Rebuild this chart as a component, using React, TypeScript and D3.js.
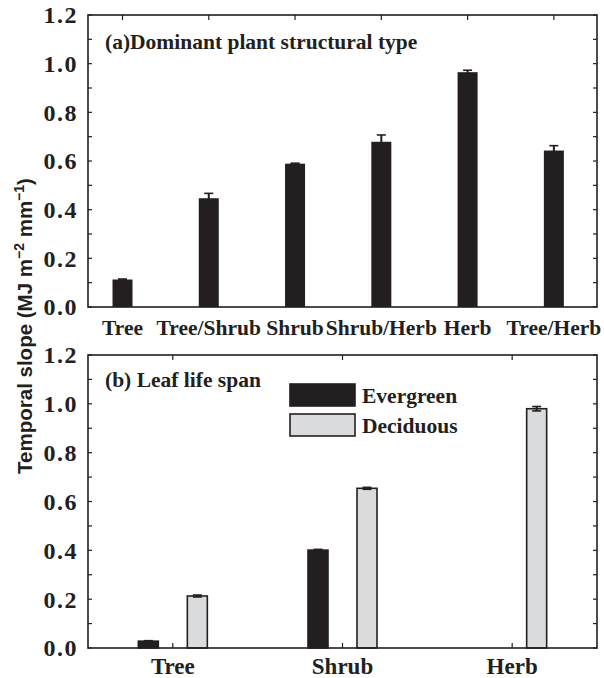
import React from 'react';
import * as d3 from 'd3';

// panel (a)
const structTypes = ['Tree', 'Tree/Shrub', 'Shrub', 'Shrub/Herb', 'Herb', 'Tree/Herb'];
const structSlope = [0.113, 0.447, 0.589, 0.679, 0.965, 0.643];
const structErr = [0.002, 0.02, 0.002, 0.028, 0.008, 0.02];

// panel (b)
const lifeForms = ['Tree', 'Shrub', 'Herb'];
const seriesNames = ['Evergreen', 'Deciduous'];
const evergreenSlope = [0.028, 0.401, 0];
const evergreenErr = [0.002, 0.003, 0];
const deciduousSlope = [0.213, 0.654, 0.98];
const deciduousErr = [0.004, 0.004, 0.009];

const yTicks = [0, 0.2, 0.4, 0.6, 0.8, 1.0, 1.2];
const yMinor = d3.range(0, 13).map(d => d / 10);

const W = 604;
const H = 678;
const left = 88;
const right = 597;
const ink = '#231f20';
const serif = '"Liberation Serif", "Times New Roman", serif';

const Frame = ({ y, top, bottom, xticks }) => (
  <g>
    <rect x={left} y={top} width={right - left} height={bottom - top} fill="none" stroke={ink} strokeWidth={1.6} />
    {yMinor.map(v => (
      <g key={v}>
        <line x1={left} x2={left + 4} y1={y(v)} y2={y(v)} stroke={ink} strokeWidth={1.2} />
        <line x1={right} x2={right - 4} y1={y(v)} y2={y(v)} stroke={ink} strokeWidth={1.2} />
      </g>
    ))}
    {xticks.map(x => (
      <g key={x}>
        <line x1={x} x2={x} y1={top} y2={top + 5} stroke={ink} strokeWidth={1.2} />
        <line x1={x} x2={x} y1={bottom} y2={bottom - 5} stroke={ink} strokeWidth={1.2} />
      </g>
    ))}
    {yTicks.map(v => (
      <text key={v} x={78} y={y(v)} dy="0.35em" textAnchor="end" fontFamily={serif} fontWeight="bold" fontSize={24}
        letterSpacing={1.5} fill={ink}>
        {v.toFixed(1)}
      </text>
    ))}
  </g>
);

const ErrBar = ({ x, y, v, e }) => {
  if (!e) return null;
  return (
    <g stroke={ink}>
      <line x1={x} x2={x} y1={y(v + e)} y2={y(v - e)} strokeWidth={2} />
      <line x1={x - 4.5} x2={x + 4.5} y1={y(v + e)} y2={y(v + e)} strokeWidth={1.6} />
      <line x1={x - 4.5} x2={x + 4.5} y1={y(v - e)} y2={y(v - e)} strokeWidth={1.6} />
    </g>
  );
};

export default function App() {
  // panel a scales
  const topA = 15;
  const botA = 307;
  const yA = d3.scaleLinear().domain([0, 1.2]).range([botA, topA]);
  const xA = d3.scaleLinear().domain([-0.4, 5.5]).range([left, right]);

  // panel b scales
  const topB = 355;
  const botB = 648;
  const yB = d3.scaleLinear().domain([0, 1.2]).range([botB, topB]);
  const xB = d3.scaleBand().domain(lifeForms).range([left, right]);
  const xSub = d3.scalePoint().domain(seriesNames).range([-24.5, 24.5]);
  const barW = 20;

  const seriesB = [
    { name: 'Evergreen', vals: evergreenSlope, errs: evergreenErr, fill: ink, stroke: ink },
    { name: 'Deciduous', vals: deciduousSlope, errs: deciduousErr, fill: '#d9dbdc', stroke: ink },
  ];

  return (
    <svg width={W} height={H} style={{ position: 'absolute', left: 0, top: 0 }}>
      <rect width={W} height={H} fill="#fff" />

      {/* panel a */}
      {structTypes.map((c, i) => (
        <g key={c}>
          <rect x={xA(i) - barW / 2} y={yA(structSlope[i])} width={barW} height={botA - yA(structSlope[i])} fill={ink} />
          <ErrBar x={xA(i)} y={yA} v={structSlope[i]} e={structErr[i]} />
          <text x={xA(i)} y={335} textAnchor="middle" fontFamily={serif} fontWeight="bold" fontSize={21.5} fill={ink}>{c}</text>
        </g>
      ))}
      <Frame y={yA} top={topA} bottom={botA} xticks={structTypes.map((c, i) => xA(i))} />
      <text x={105} y={49} fontFamily={serif} fontWeight="bold" fontSize={21.5} fill={ink}>(a)Dominant plant structural type</text>

      {/* panel b */}
      {seriesB.map(s => (
        <g key={s.name}>
          {lifeForms.map((c, i) => {
            const cx = xB(c) + xB.bandwidth() / 2 + xSub(s.name);
            return (
              <g key={c}>
                <rect x={cx - barW / 2} y={yB(s.vals[i])} width={barW} height={botB - yB(s.vals[i])}
                  fill={s.fill} stroke={s.stroke} strokeWidth={1.6} />
                <ErrBar x={cx} y={yB} v={s.vals[i]} e={s.errs[i]} />
              </g>
            );
          })}
        </g>
      ))}
      {lifeForms.map(c => (
        <text key={c} x={xB(c) + xB.bandwidth() / 2} y={674} textAnchor="middle" fontFamily={serif} fontWeight="bold" fontSize={23} fill={ink}>{c}</text>
      ))}
      <Frame y={yB} top={topB} bottom={botB} xticks={lifeForms.map(c => xB(c) + xB.bandwidth() / 2)} />
      <text x={105} y={387} fontFamily={serif} fontWeight="bold" fontSize={21.5} fill={ink}>(b) Leaf life span</text>

      {/* legend */}
      {seriesB.map((s, i) => (
        <g key={s.name} transform={`translate(290, ${384 + i * 30})`}>
          <rect x={0} y={0} width={65} height={22} fill={s.fill} stroke={s.stroke} strokeWidth={1.6} />
          <text x={72} y={19} fontFamily={serif} fontWeight="bold" fontSize={21.5} fill={ink}>{s.name}</text>
        </g>
      ))}

      {/* y axis title */}
      <text transform="translate(32, 326) rotate(-90)" textAnchor="middle"
        fontFamily='"Liberation Sans", Arial, sans-serif' fontWeight="bold" fontSize={20.5} fill={ink}>
        Temporal slope (MJ m<tspan dy={-8} fontSize={14}>−2</tspan><tspan dy={8}> mm</tspan><tspan dy={-8} fontSize={14}>−1</tspan><tspan dy={8}>)</tspan>
      </text>
    </svg>
  );
}
